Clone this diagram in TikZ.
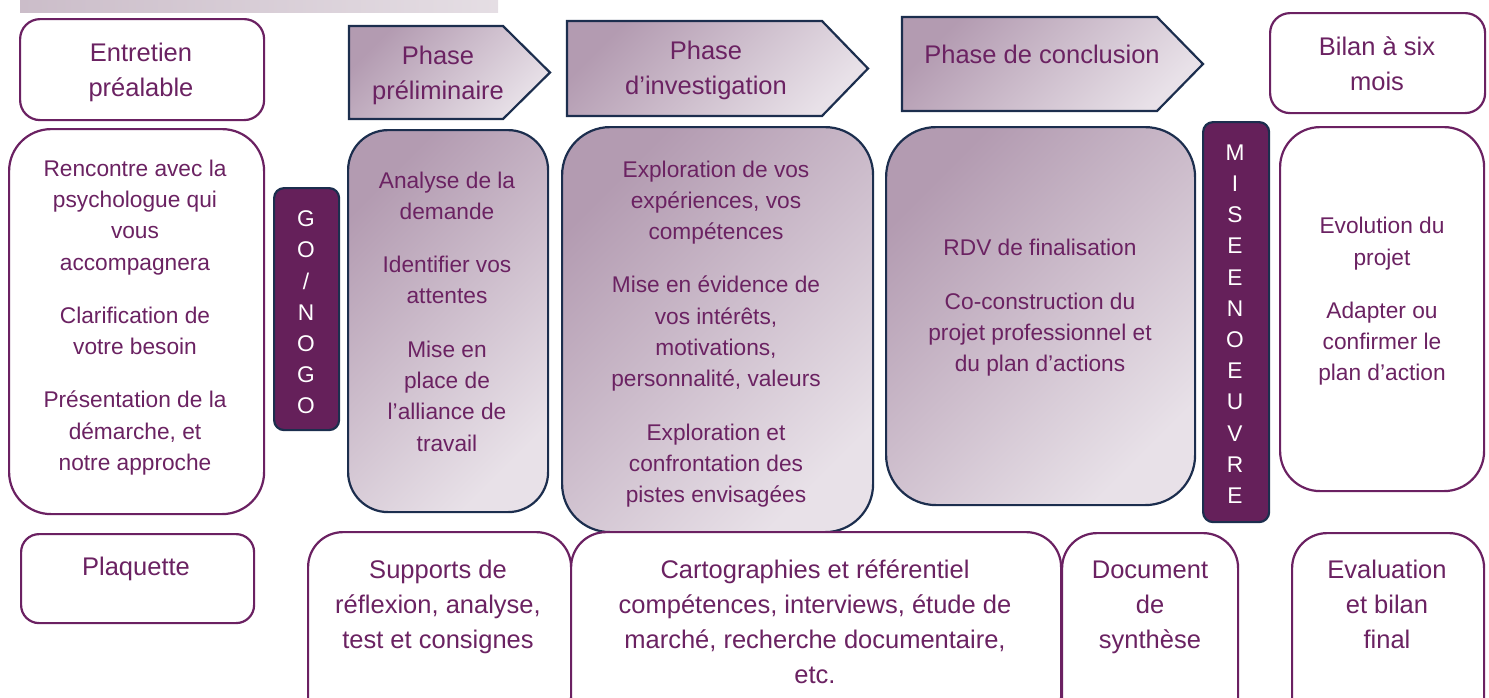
\documentclass[tikz,border=0pt]{standalone}
\usepackage{fontspec}
\setmainfont{Liberation Sans}
\definecolor{txt}{HTML}{6B2262}
\definecolor{pborder}{HTML}{6B2162}
\definecolor{navy}{HTML}{1C2E4E}
\definecolor{gofill}{HTML}{65205A}
\definecolor{gdark}{HTML}{B39BB1}
\definecolor{glight}{HTML}{E8E1E8}
\definecolor{bardark}{HTML}{CBBDC9}
\definecolor{barlight}{HTML}{E5DEE4}
\tikzset{
  box/.style={rectangle, draw, line width=2.2pt, anchor=north west, inner sep=0pt},
  wbox/.style={box, draw=pborder, fill=white},
  gbox/.style={box, draw=navy, top color=gdark, bottom color=glight, shading angle=45},
  dbox/.style={box, draw=navy, fill=gofill},
  arrowshape/.style={draw=navy, line width=2.2pt, line join=miter, top color=gdark, bottom color=glight, shading angle=45},
  big/.style={inner sep=0pt, align=center, text=txt, font=\fontsize{25.5}{35}\selectfont},
  small/.style={inner sep=0pt, align=center, text=txt, font=\fontsize{22.7}{31.3}\selectfont},
  letters/.style={inner sep=0pt, align=center, text=white, font=\fontsize{22.7}{31.2}\selectfont},
}
\begin{document}
\begin{tikzpicture}[x=1pt,y=-1pt]
\useasboundingbox (0,0) rectangle (1489,697);
\clip (0,0) rectangle (1489,697);
% top bar
\shade[left color=bardark, right color=barlight] (20,-5) rectangle (498,12);
% top row
\node[wbox, minimum width=244pt, minimum height=101pt, rounded corners=20pt] (entretien) at (19,18) {};
\node[big] (tentretien) at (141,72.5) {Entretien\\préalable};
\path[arrowshape] (349,26) -- (503,26) -- (550,72.5) -- (503,119) -- (349,119) -- cycle;
\node[big] (tprelim) at (438,75) {Phase\\préliminaire};
\path[arrowshape] (567,21) -- (822,21) -- (868,68.5) -- (822,116) -- (567,116) -- cycle;
\node[big] (tinvest) at (706,70.5) {Phase\\d’investigation};
\path[arrowshape] (902,17) -- (1157,17) -- (1203,64) -- (1157,111) -- (902,111) -- cycle;
\node[big] (tconcl) at (1042,54) {Phase de conclusion};
\node[wbox, minimum width=215pt, minimum height=100pt, rounded corners=20pt] (bilan) at (1269,12) {};
\node[big] (tbilan) at (1377,64) {Bilan à six\\mois};
% middle row
\node[wbox, minimum width=255pt, minimum height=385pt, rounded corners=42pt] (left) at (8,128) {};
\node[small] (tleft) at (135,317.5) {Rencontre avec la\\psychologue qui\\vous\\accompagnera\\[22pt]Clarification de\\votre besoin\\[22pt]Présentation de la\\démarche, et\\notre approche};
\node[dbox, minimum width=65pt, minimum height=242pt, rounded corners=10pt] (go) at (273,187) {};
\node[letters] (tgo) at (306,312.5) {G\\O\\/\\N\\O\\G\\O};
\node[gbox, minimum width=200pt, minimum height=382pt, rounded corners=40pt] (prelim) at (347,129) {};
\node[small] (tprelimc) at (447,311.5) {Analyse de la\\demande\\[22pt]Identifier vos\\attentes\\[22pt]Mise en\\place de\\l’alliance de\\travail};
\node[gbox, minimum width=311pt, minimum height=405pt, rounded corners=48pt] (invest) at (561,126) {};
\node[small] (tinvestc) at (716,334) {Exploration de vos\\expériences, vos\\compétences\\[22pt]Mise en évidence de\\vos intérêts,\\motivations,\\personnalité, valeurs\\[22pt]Exploration et\\confrontation des\\pistes envisagées};
\node[gbox, minimum width=309pt, minimum height=378pt, rounded corners=50pt] (concl) at (885,126) {};
\node[small] (tconclc) at (1040,308) {RDV de finalisation\\[22pt]Co-construction du\\projet professionnel et\\du plan d’actions};
\node[dbox, minimum width=66pt, minimum height=400pt, rounded corners=10pt] (mise) at (1202,121) {};
\node[letters] (tmise) at (1235,324) {M\\I\\S\\E\\E\\N\\O\\E\\U\\V\\R\\E};
\node[wbox, minimum width=204pt, minimum height=364pt, rounded corners=40pt] (right) at (1279,126) {};
\node[small] (tright) at (1382,301.5) {Evolution du\\projet\\[22pt]Adapter ou\\confirmer le\\plan d’action};
% bottom row
\node[wbox, minimum width=233pt, minimum height=89pt, rounded corners=18pt] (plaq) at (20,533) {};
\node[big] (tplaq) at (136,569) {Plaquette};
\node[wbox, minimum width=263pt, minimum height=200pt, rounded corners=35pt] (supports) at (307,531) {};
\node[big] (tsupports) at (438,607) {Supports de\\réflexion, analyse,\\test et consignes};
\node[wbox, minimum width=490pt, minimum height=200pt, rounded corners=35pt] (carto) at (570,531) {};
\node[big] (tcarto) at (815,622) {Cartographies et référentiel\\compétences, interviews, étude de\\marché, recherche documentaire,\\etc.};
\node[wbox, minimum width=176pt, minimum height=200pt, rounded corners=35pt] (doc) at (1061,532) {};
\node[big] (tdoc) at (1150,607) {Document\\de\\synthèse};
\node[wbox, minimum width=192pt, minimum height=200pt, rounded corners=35pt] (eval) at (1291,532) {};
\node[big] (teval) at (1387,604) {Evaluation\\et bilan\\final};
\end{tikzpicture}
\end{document}
